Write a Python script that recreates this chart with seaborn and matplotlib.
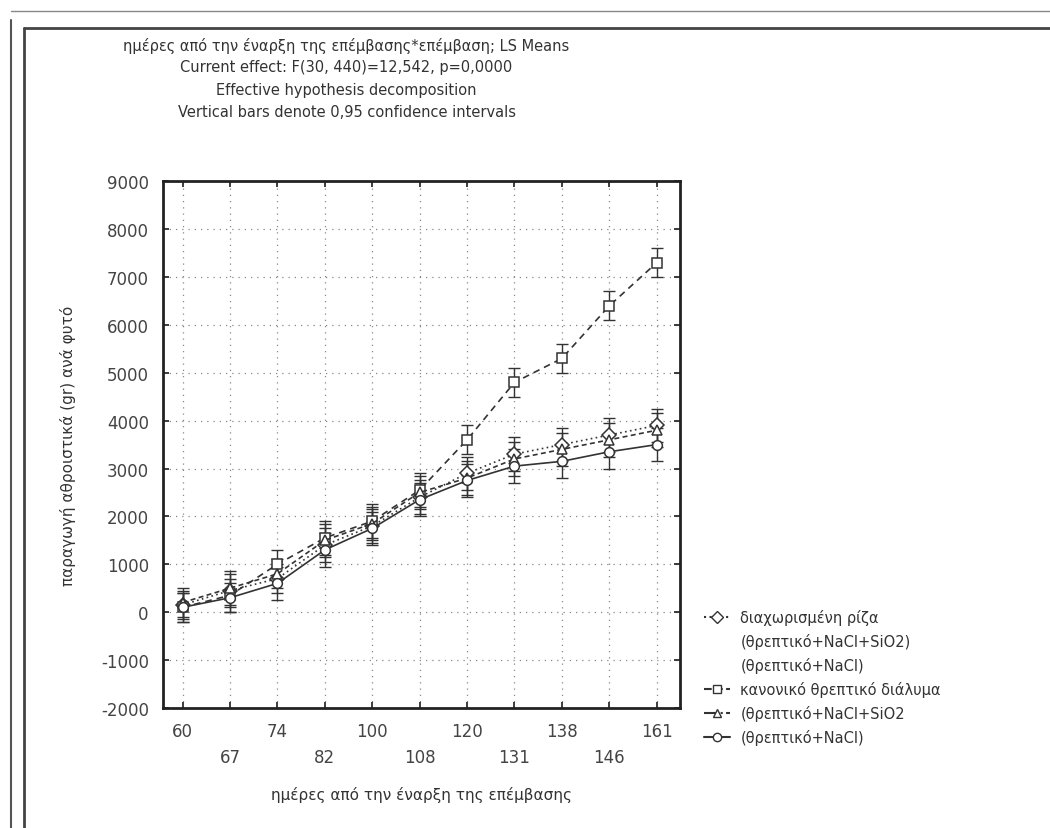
import numpy as np
import pandas as pd
import matplotlib
matplotlib.use("Agg")
import matplotlib.pyplot as plt
from matplotlib.lines import Line2D
import seaborn as sns

# ---- data ----
days = ["60", "67", "74", "82", "100", "108", "120", "131", "138", "146", "161"]

split_root = [150, 450, 700, 1400, 1800, 2400, 2900, 3300, 3500, 3700, 3900]
split_root_ci = [300, 350, 300, 350, 350, 350, 350, 350, 350, 350, 350]

normal_sol = [100, 350, 1000, 1550, 1900, 2550, 3600, 4800, 5300, 6400, 7300]
normal_sol_ci = [300, 350, 300, 350, 350, 350, 300, 300, 300, 300, 300]

nacl_sio2 = [200, 500, 800, 1500, 1850, 2500, 2800, 3200, 3400, 3600, 3800]
nacl_sio2_ci = [300, 350, 300, 350, 350, 350, 350, 350, 350, 350, 350]

nacl = [100, 300, 600, 1300, 1750, 2350, 2750, 3050, 3150, 3350, 3500]
nacl_ci = [300, 300, 350, 350, 350, 350, 350, 350, 350, 350, 350]

series_names = ["split", "normal", "sio2", "nacl"]
series_vals = [split_root, normal_sol, nacl_sio2, nacl]
series_ci = [split_root_ci, normal_sol_ci, nacl_sio2_ci, nacl_ci]

rows = []
for name, vals, ci in zip(series_names, series_vals, series_ci):
    for i, (v, c) in enumerate(zip(vals, ci)):
        rows.append({"pos": i, "value": v, "ci": c, "series": name})
df = pd.DataFrame(rows)

sns.set_theme(style="white")
plt.rcParams["font.family"] = ["DejaVu Sans"]

fig = plt.figure(figsize=(10.5, 8.29), dpi=100)
ax = fig.add_axes([0.155, 0.145, 0.493, 0.635])

dash_map = {"split": (1, 2), "normal": (4, 3), "sio2": (3, 2), "nacl": ""}
marker_map = {"split": "D", "normal": "s", "sio2": "^", "nacl": "o"}
col = "#333333"

sns.lineplot(data=df, x="pos", y="value", style="series", dashes=dash_map,
             markers=marker_map, color=col, linewidth=1.2, markersize=7,
             markerfacecolor="white", markeredgecolor=col, markeredgewidth=1.1,
             legend=False, ax=ax, zorder=3)

for name in series_names:
    sub = df[df["series"] == name]
    ax.errorbar(sub["pos"], sub["value"], yerr=sub["ci"], fmt="none",
                ecolor=col, elinewidth=1.0, capsize=4, capthick=1.0, zorder=2)

ax.set_xlim(-0.42, 10.5)
ax.set_ylim(-2000, 9000)
ax.set_yticks(np.arange(-2000, 9001, 1000))
ax.set_yticklabels([str(v) for v in range(-2000, 9001, 1000)], fontsize=12, color="#444444")
ax.set_xticks(range(len(days)))
ax.set_xticklabels([d if i % 2 == 0 else "\n" + d for i, d in enumerate(days)],
                   fontsize=12, color="#444444", linespacing=1.6)
ax.tick_params(axis="both", direction="in", length=4, top=True, right=True,
               bottom=True, left=True, pad=10)

ax.grid(True, linestyle=(0, (1, 4)), color="#888888", linewidth=0.9)
for s in ax.spines.values():
    s.set_linewidth(2)
    s.set_color("#222222")

ax.set_xlabel("ημέρες από την έναρξη της επέμβασης", fontsize=11, color="#333333", labelpad=14)
ax.set_ylabel("παραγωγή αθροιστικά (gr) ανά φυτό", fontsize=11, color="#333333", labelpad=18)

# title block
title_lines = [
    "ημέρες από την έναρξη της επέμβασης*επέμβαση; LS Means",
    "Current effect: F(30, 440)=12,542, p=0,0000",
    "Effective hypothesis decomposition",
    "Vertical bars denote 0,95 confidence intervals",
]
for k, t in enumerate(title_lines):
    fig.text(0.33, 0.945 - k * 0.027, t, ha="center", va="center",
             fontsize=10.5, color="#333333")

# legend
handles = [
    Line2D([], [], color=col, linestyle=":", marker="D", markerfacecolor="white", markersize=6),
    Line2D([], [], linestyle="none"),
    Line2D([], [], linestyle="none"),
    Line2D([], [], color=col, linestyle="--", marker="s", markerfacecolor="white", markersize=6),
    Line2D([], [], color=col, linestyle="-.", marker="^", markerfacecolor="white", markersize=6),
    Line2D([], [], color=col, linestyle="-", marker="o", markerfacecolor="white", markersize=6),
]
labels = [
    "διαχωρισμένη ρίζα",
    "(θρεπτικό+NaCl+SiO2)",
    "(θρεπτικό+NaCl)",
    "κανονικό θρεπτικό διάλυμα",
    "(θρεπτικό+NaCl+SiO2",
    "(θρεπτικό+NaCl)",
]
fig.legend(handles, labels, loc="upper left", bbox_to_anchor=(0.658, 0.28),
           frameon=False, fontsize=10.5, handlelength=1.8, handletextpad=0.7,
           labelspacing=0.55, labelcolor="#333333")

# scanned page frame
fig.add_artist(Line2D([0.010, 0.010], [0.0, 0.975], transform=fig.transFigure, color="#555555", lw=1.5))
fig.add_artist(Line2D([0.023, 0.023], [0.0, 0.965], transform=fig.transFigure, color="#444444", lw=2))
fig.add_artist(Line2D([0.023, 1.0], [0.965, 0.965], transform=fig.transFigure, color="#444444", lw=2))
fig.add_artist(Line2D([0.010, 1.0], [0.985, 0.985], transform=fig.transFigure, color="#888888", lw=1))

fig.savefig("out.png", dpi=100)
